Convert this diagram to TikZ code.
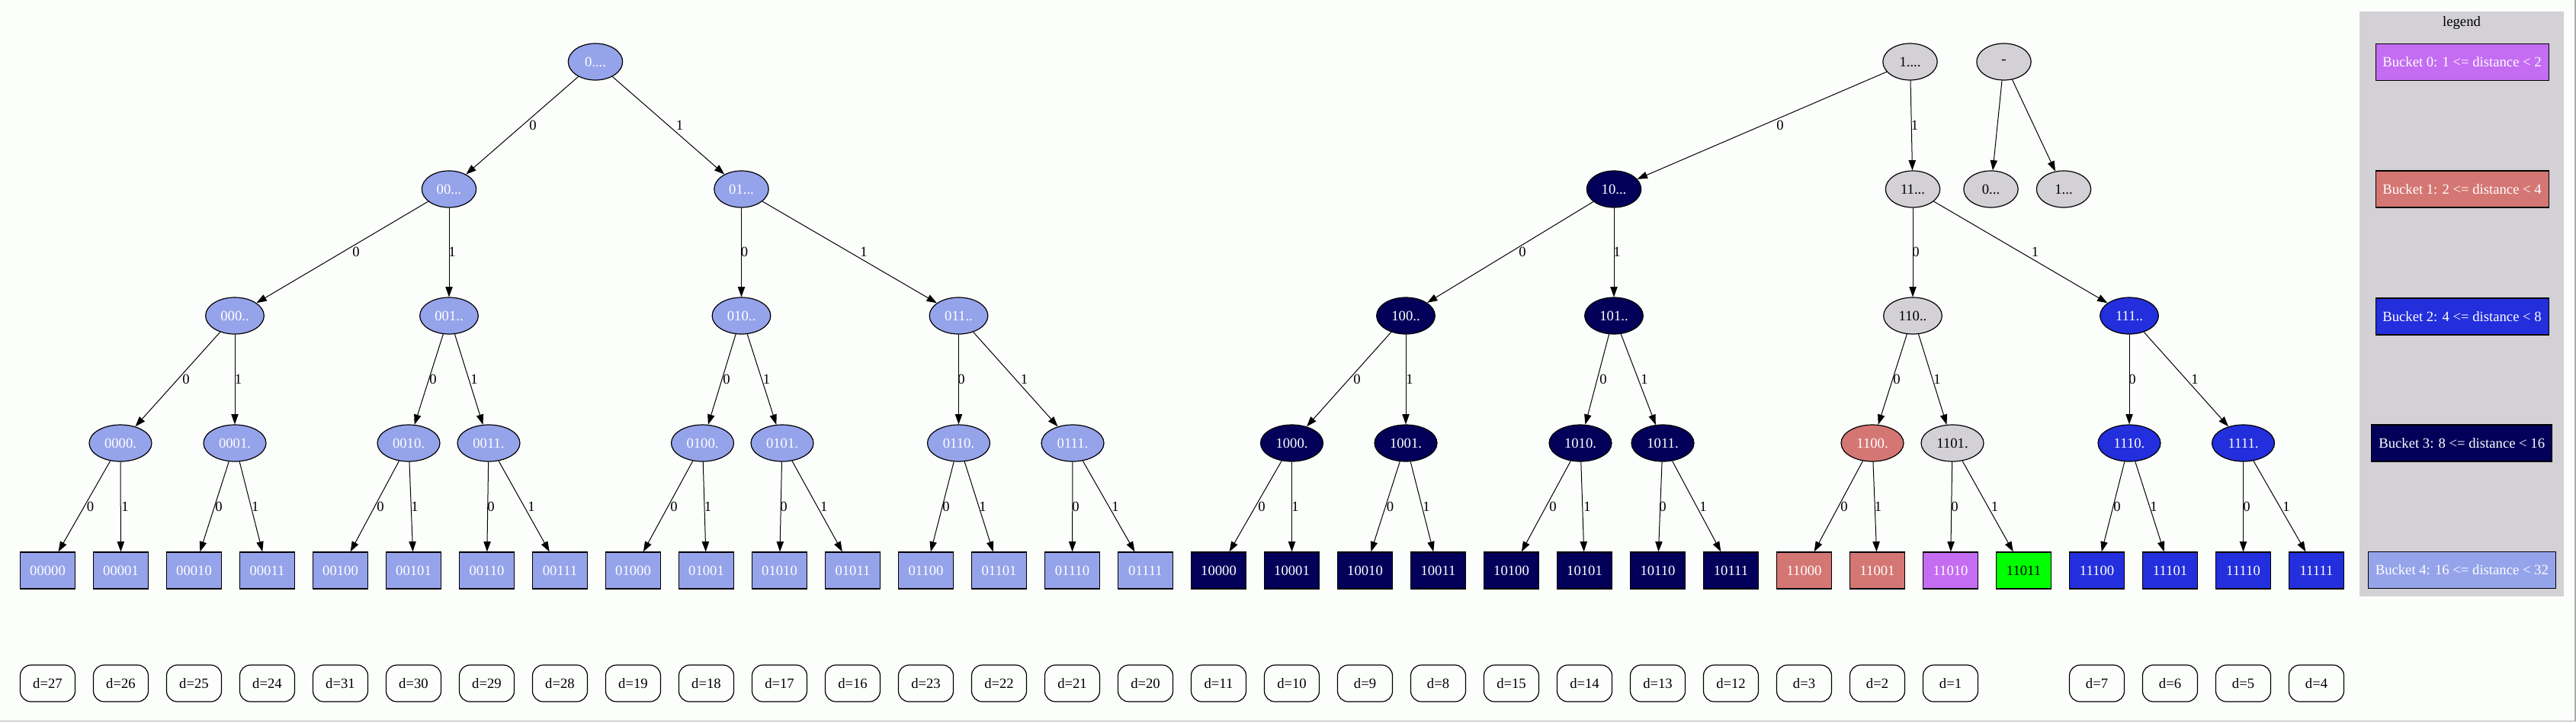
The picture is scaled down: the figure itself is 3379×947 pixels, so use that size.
\documentclass[tikz,border=0pt]{standalone}
\usepackage{fontspec}
\setmainfont{Liberation Serif}
\usetikzlibrary{shapes.geometric,arrows.meta}
\definecolor{cLB}{HTML}{95A3EA}
\definecolor{cNV}{HTML}{03005A}
\definecolor{cBL}{HTML}{232EDC}
\definecolor{cSA}{HTML}{D47673}
\definecolor{cPU}{HTML}{C46CF2}
\definecolor{cGR}{HTML}{00FF00}
\definecolor{cGY}{HTML}{D3D1D6}
\definecolor{cBG}{HTML}{FCFEFC}
\definecolor{cFR}{HTML}{ABABAB}
\newcommand\edg[4]{\draw[gvedge] (#1) -- (#2) node[elab] at (#3) {#4};}
\begin{document}
\begin{tikzpicture}[x=0.75pt,y=-0.75pt,
  gvbase/.style={font=\fontsize{14pt}{16pt}\selectfont, inner sep=0pt, line width=0.9pt, draw=black},
  inode/.style={gvbase, ellipse, minimum height=36pt, minimum width=53.5pt},
  wtwo/.style={minimum width=57.5pt},
  wthree/.style={minimum width=61.5pt},
  gvleaf/.style={gvbase, rectangle, minimum width=54pt, minimum height=36pt},
  dnode/.style={gvbase, rectangle, rounded corners=10.5pt, minimum width=54pt, minimum height=36pt, fill=cBG},
  legbox/.style={gvbase, rectangle, minimum height=36pt, text=white, line width=0.8pt},
  fLB/.style={fill=cLB, text=white},
  fNV/.style={fill=cNV, text=white},
  fBL/.style={fill=cBL, text=white},
  fSA/.style={fill=cSA, text=white},
  fPU/.style={fill=cPU, text=white},
  fGR/.style={fill=cGR, text=black},
  fGY/.style={fill=cGY, text=black},
  gvedge/.style={line width=0.75pt, draw=black, -{Triangle[length=10pt,width=7pt]}},
  elab/.style={font=\fontsize{14pt}{16pt}\selectfont, inner sep=0pt, text=black},
]
\useasboundingbox (0,0) rectangle (3379,947);
\fill[cBG] (0,0) rectangle (3379,947);
\draw[cFR, line width=1.1pt] (0,945.5) -- (3378,945.5) -- (3378,0);

% legend
\fill[cGY] (3095,15) rectangle (3363,782);
\node[elab] (legtitle) at (3229,30) {legend};
\node[legbox, fill=cPU, minimum width=170.25pt] (lg0) at (3229.5,81.5) {Bucket 0: 1 <= distance < 2};
\node[legbox, fill=cSA, minimum width=170.25pt] (lg1) at (3229.5,248) {Bucket 1: 2 <= distance < 4};
\node[legbox, fill=cBL, minimum width=170.25pt] (lg2) at (3229.5,415) {Bucket 2: 4 <= distance < 8};
\node[legbox, fill=cNV, minimum width=177.75pt] (lg3) at (3229.2,581) {Bucket 3: 8 <= distance < 16};
\node[legbox, fill=cLB, minimum width=184.5pt] (lg4) at (3229.3,747.5) {Bucket 4: 16 <= distance < 32};

% level 0
\node[inode, fLB] (p0) at (781,81) {0....};
\node[inode, fGY] (p1) at (2505.5,81) {1....};
\node[inode, fGY] (pr) at (2628.5,81) {-};
% level 1
\node[inode, fLB] (p00) at (589,248) {00...};
\node[inode, fLB] (p01) at (972.5,248) {01...};
\node[inode, fNV] (p10) at (2117,248) {10...};
\node[inode, fGY] (p11) at (2509,248) {11...};
\node[inode, fGY] (q0) at (2611.5,248) {0...};
\node[inode, fGY] (q1) at (2707,248) {1...};
% level 2
\node[inode, wtwo, fLB] (p000) at (308,414) {000..};
\node[inode, wtwo, fLB] (p001) at (589,414) {001..};
\node[inode, wtwo, fLB] (p010) at (972.5,414) {010..};
\node[inode, wtwo, fLB] (p011) at (1257.5,414) {011..};
\node[inode, wtwo, fNV] (p100) at (1844,414) {100..};
\node[inode, wtwo, fNV] (p101) at (2117,414) {101..};
\node[inode, wtwo, fGY] (p110) at (2509,414) {110..};
\node[inode, wtwo, fBL] (p111) at (2793,414) {111..};
% level 3
\node[inode, wthree, fLB] (p0000) at (158,581) {0000.};
\node[inode, wthree, fLB] (p0001) at (308,581) {0001.};
\node[inode, wthree, fLB] (p0010) at (536,581) {0010.};
\node[inode, wthree, fLB] (p0011) at (641,581) {0011.};
\node[inode, wthree, fLB] (p0100) at (921.5,581) {0100.};
\node[inode, wthree, fLB] (p0101) at (1026,581) {0101.};
\node[inode, wthree, fLB] (p0110) at (1257.5,581) {0110.};
\node[inode, wthree, fLB] (p0111) at (1407,581) {0111.};
\node[inode, wthree, fNV] (p1000) at (1694.5,581) {1000.};
\node[inode, wthree, fNV] (p1001) at (1844,581) {1001.};
\node[inode, wthree, fNV] (p1010) at (2073,581) {1010.};
\node[inode, wthree, fNV] (p1011) at (2181,581) {1011.};
\node[inode, wthree, fSA] (p1100) at (2456,581) {1100.};
\node[inode, wthree, fGY] (p1101) at (2561,581) {1101.};
\node[inode, wthree, fBL] (p1110) at (2793,581) {1110.};
\node[inode, wthree, fBL] (p1111) at (2942.5,581) {1111.};
% leaves
\foreach \lab/\sty [count=\i from 0] in {00000/fLB,00001/fLB,00010/fLB,00011/fLB,00100/fLB,00101/fLB,00110/fLB,00111/fLB,01000/fLB,01001/fLB,01010/fLB,01011/fLB,01100/fLB,01101/fLB,01110/fLB,01111/fLB,10000/fNV,10001/fNV,10010/fNV,10011/fNV,10100/fNV,10101/fNV,10110/fNV,10111/fNV,11000/fSA,11001/fSA,11010/fPU,11011/fGR,11100/fBL,11101/fBL,11110/fBL,11111/fBL}
  \node[gvleaf, \sty] (L\lab) at ({62.5+96*\i},748) {\lab};
% distance nodes
\foreach \i/\dd in {0/27,1/26,2/25,3/24,4/31,5/30,6/29,7/28,8/19,9/18,10/17,11/16,12/23,13/22,14/21,15/20,16/11,17/10,18/9,19/8,20/15,21/14,22/13,23/12,24/3,25/2,26/1,28/7,29/6,30/5,31/4}
  \node[dnode] (D\i) at ({62.5+96*\i},896) {d=\dd};

% edges level 0-1
\edg{p0}{p00}{699,164}{0}
\edg{p0}{p01}{891.5,164}{1}
\edg{p1}{p10}{2335,164}{0}
\edg{p1}{p11}{2511.5,164}{1}
\draw[gvedge] (pr) -- (q0);
\draw[gvedge] (pr) -- (q1);
% level 1-2
\edg{p00}{p000}{467,330}{0}
\edg{p00}{p001}{593,330}{1}
\edg{p01}{p010}{976.5,330}{0}
\edg{p01}{p011}{1133,330}{1}
\edg{p10}{p100}{1997,330}{0}
\edg{p10}{p101}{2121,330}{1}
\edg{p11}{p110}{2513,330}{0}
\edg{p11}{p111}{2669.5,330}{1}
% level 2-3
\edg{p000}{p0000}{244,497}{0}
\edg{p000}{p0001}{312.5,497}{1}
\edg{p001}{p0010}{568,497}{0}
\edg{p001}{p0011}{622,497}{1}
\edg{p010}{p0100}{953,497}{0}
\edg{p010}{p0101}{1005.5,497}{1}
\edg{p011}{p0110}{1261,497}{0}
\edg{p011}{p0111}{1343.5,497}{1}
\edg{p100}{p1000}{1780,497}{0}
\edg{p100}{p1001}{1849,497}{1}
\edg{p101}{p1010}{2103,497}{0}
\edg{p101}{p1011}{2157,497}{1}
\edg{p110}{p1100}{2488,497}{0}
\edg{p110}{p1101}{2541,497}{1}
\edg{p111}{p1110}{2797,497}{0}
\edg{p111}{p1111}{2879,497}{1}
% level 3-4
\edg{p0000}{L00000}{118.6,664}{0}
\edg{p0000}{L00001}{164,664}{1}
\edg{p0001}{L00010}{287,664}{0}
\edg{p0001}{L00011}{334.8,664}{1}
\edg{p0010}{L00100}{499,664}{0}
\edg{p0010}{L00101}{544,664}{1}
\edg{p0011}{L00110}{644,664}{0}
\edg{p0011}{L00111}{697,664}{1}
\edg{p0100}{L01000}{884,664}{0}
\edg{p0100}{L01001}{928.6,664}{1}
\edg{p0101}{L01010}{1028,664}{0}
\edg{p0101}{L01011}{1080.7,664}{1}
\edg{p0110}{L01100}{1241,664}{0}
\edg{p0110}{L01101}{1289,664}{1}
\edg{p0111}{L01110}{1411,664}{0}
\edg{p0111}{L01111}{1463,664}{1}
\edg{p1000}{L10000}{1655,664}{0}
\edg{p1000}{L10001}{1699,664}{1}
\edg{p1001}{L10010}{1823.6,664}{0}
\edg{p1001}{L10011}{1871,664}{1}
\edg{p1010}{L10100}{2037,664}{0}
\edg{p1010}{L10101}{2082,664}{1}
\edg{p1011}{L10110}{2181,664}{0}
\edg{p1011}{L10111}{2234,664}{1}
\edg{p1100}{L11000}{2419,664}{0}
\edg{p1100}{L11001}{2463.5,664}{1}
\edg{p1101}{L11010}{2564,664}{0}
\edg{p1101}{L11011}{2616.6,664}{1}
\edg{p1110}{L11100}{2777,664}{0}
\edg{p1110}{L11101}{2825,664}{1}
\edg{p1111}{L11110}{2947,664}{0}
\edg{p1111}{L11111}{2999,664}{1}
\end{tikzpicture}
\end{document}
